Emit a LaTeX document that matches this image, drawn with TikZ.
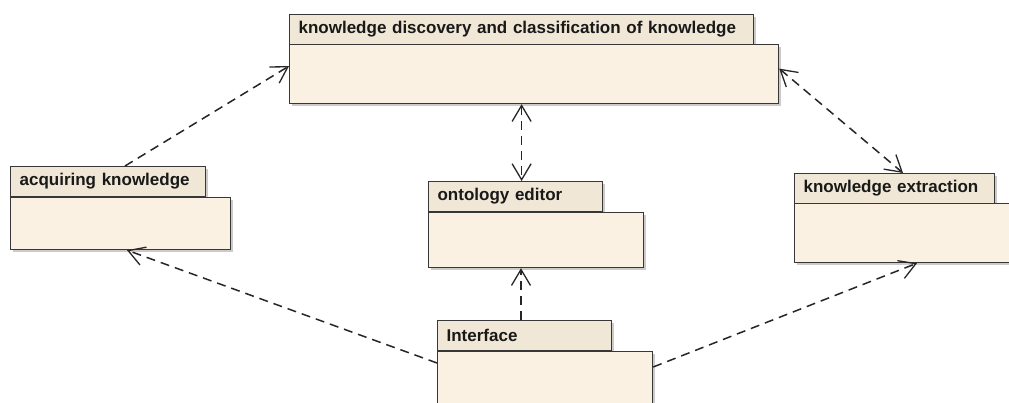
\documentclass[tikz,border=0pt]{standalone}
\usepackage{fontspec}
\setmainfont{Liberation Sans}
\usetikzlibrary{arrows.meta,shadows,calc}
\definecolor{tabfill}{RGB}{240,231,214}
\definecolor{bodyfill}{RGB}{250,241,227}
\definecolor{edge}{RGB}{55,55,55}
\tikzset{
  pkg/.style={draw=edge, line width=1.2pt, inner sep=0pt, anchor=north west,
    drop shadow={shadow xshift=2.5pt, shadow yshift=-2.5pt, fill=black!40, opacity=0.5}},
  pkgtab/.style={pkg, fill=tabfill, minimum height=30pt, align=left, inner xsep=9pt,
    font=\bfseries\fontsize{17}{18}\selectfont, text=black!90},
  pkgbody/.style={pkg, fill=bodyfill},
  dep/.style={draw=black!85, line width=1.5pt, dash pattern=on 9pt off 6pt},
  tipend/.style={-{Straight Barb[length=16pt,width=19pt,line width=1.3pt]}},
  tipboth/.style={{Straight Barb[length=16pt,width=19pt,line width=1.3pt]}-{Straight Barb[length=16pt,width=19pt,line width=1.3pt]}}
}
\begin{document}
\begin{tikzpicture}[x=1pt,y=-1pt]
\clip (0,0) rectangle (1009,403);
\fill[white] (0,0) rectangle (1009,403);
% knowledge discovery
\node[pkgtab, text width=446pt] (Kt) at (289,14) {knowledge discovery and classification of knowledge};
\node[pkgbody, minimum width=489pt, minimum height=59pt] (K) at (289,44) {};
% acquiring
\node[pkgtab, text width=177pt] (At) at (10,166) {acquiring knowledge};
\node[pkgbody, minimum width=220pt, minimum height=52pt] (A) at (10,197) {};
% ontology
\node[pkgtab, text width=156pt] (Ot) at (428,181) {ontology editor};
\node[pkgbody, minimum width=215pt, minimum height=55pt] (O) at (428,212) {};
% extraction
\node[pkgtab, text width=182pt] (Et) at (794,173) {knowledge extraction};
\node[pkgbody, minimum width=216pt, minimum height=59pt] (E) at (794,203) {};
% interface
\node[pkgtab, text width=156pt] (It) at (437,320) {Interface};
\node[pkgbody, minimum width=215pt, minimum height=70pt] (I) at (437,351) {};
% connectors
\draw[dep, tipend] ([xshift=115pt]At.north west) -- ([yshift=8pt]K.west);
\draw[dep, tipboth] ([xshift=6pt]Ot.north |- K.south) -- ([xshift=6pt]Ot.north);
\draw[dep, tipboth] ([yshift=5.5pt]K.east) -- ([xshift=109pt]Et.north west);
\draw[dep, tipend] ([yshift=-12pt]I.north west) -- ([xshift=117pt]A.south west);
\draw[dep, tipend] ([xshift=84pt]It.north west) -- ([xshift=84pt]It.north west |- O.south);
\draw[dep, tipend] ([yshift=-16pt]I.north east) -- ([xshift=123pt]E.south west);
\end{tikzpicture}
\end{document}
